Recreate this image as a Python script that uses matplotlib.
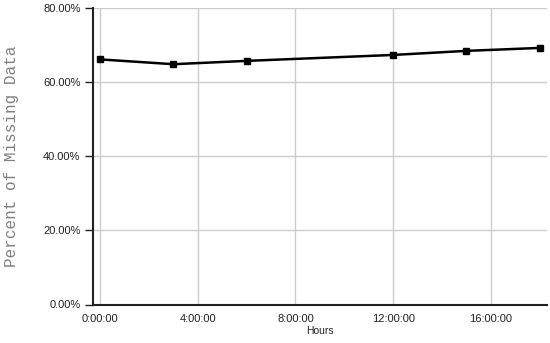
import matplotlib
matplotlib.use("Agg")
import matplotlib.pyplot as plt
from matplotlib.ticker import FuncFormatter

# data
hours = [0, 3, 6, 12, 15, 18]
missing_pct = [66.2, 64.9, 65.8, 67.4, 68.5, 69.3]
x_ticks = [0, 4, 8, 12, 16]
y_ticks = [0, 20, 40, 60, 80]

plt.rcParams["font.family"] = ["Liberation Sans", "DejaVu Sans"]


def hms(h, pos=None):
    return "%d:%02d:00" % (int(h), int(round((h - int(h)) * 60)))


fig = plt.figure(figsize=(5.5, 3.43), dpi=100)
ax = fig.add_axes([93 / 550, 1 - 304.5 / 343, (547 - 93) / 550, (304.5 - 8.3) / 343])

ax.plot(hours, missing_pct, color="black", linewidth=1.8,
        marker="s", markersize=5, zorder=3)

ax.set_xlim(-0.29, 18.3)
ax.set_ylim(0, 80)
ax.set_xticks(x_ticks)
ax.set_yticks(y_ticks)
ax.xaxis.set_major_formatter(FuncFormatter(hms))
ax.yaxis.set_major_formatter(FuncFormatter(lambda v, p: "%.2f%%" % v))

ax.grid(True, color="#cccccc", linewidth=1)
ax.set_axisbelow(True)
for s in ("top", "right"):
    ax.spines[s].set_visible(False)
for s in ("left", "bottom"):
    ax.spines[s].set_linewidth(1.5)
    ax.spines[s].set_color("#222222")

ax.tick_params(axis="y", length=6, width=1, color="#222222", labelsize=8,
               labelcolor="#222222", pad=3)
ax.tick_params(axis="x", length=0, labelsize=8, labelcolor="#222222", pad=7)

ax.set_xlabel("Hours", fontsize=7.5, color="#222222", labelpad=1)
ax.set_ylabel("Percent of Missing Data", family="Liberation Mono",
              fontsize=11.5, color="#808080", labelpad=17)

fig.savefig("out.png", dpi=100)
